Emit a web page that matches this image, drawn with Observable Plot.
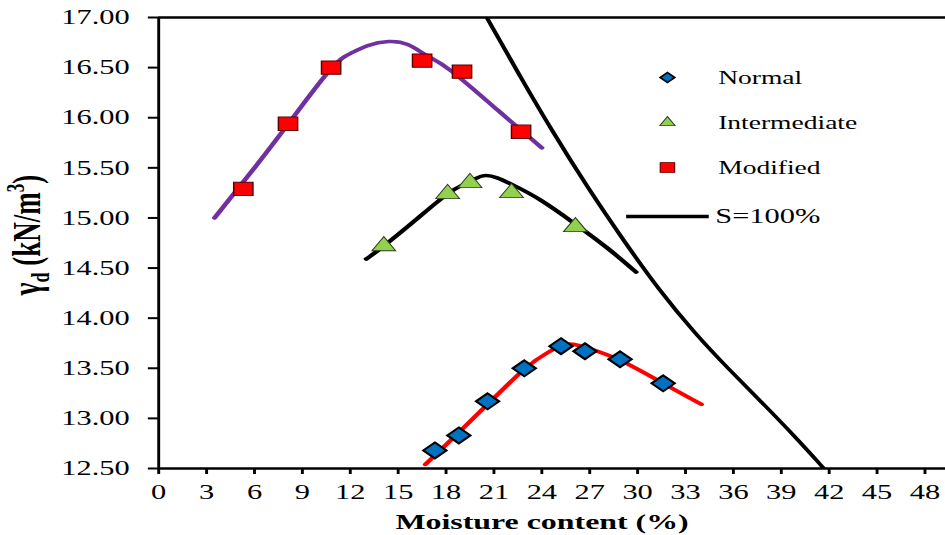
<!DOCTYPE html>
<html>
<head>
<meta charset="utf-8">
<script src="https://cdn.jsdelivr.net/npm/d3@7"></script>
<script src="https://cdn.jsdelivr.net/npm/@observablehq/plot@0.6"></script>
<style>
  html, body { margin: 0; padding: 0; background: #fff; overflow: hidden; }
  #chart { width: 945px; height: 535px; }
</style>
</head>
<body>
<div id="chart"></div>
<script>
// ---- Data ----
const xTicks = [0, 3, 6, 9, 12, 15, 18, 21, 24, 27, 30, 33, 36, 39, 42, 45, 48];
const yTicks = [12.5, 13, 13.5, 14, 14.5, 15, 15.5, 16, 16.5, 17];

// Measured points
const normalW = [17.3, 18.8, 20.6, 22.9, 25.2, 26.7, 28.9, 31.6];
const normalG = [12.68, 12.83, 13.17, 13.50, 13.72, 13.67, 13.59, 13.35];
const interW  = [14.1, 18.1, 19.5, 22.1, 26.1];
const interG  = [14.72, 15.24, 15.35, 15.25, 14.91];
const modW    = [5.3, 8.1, 10.8, 16.5, 19.0, 22.7];
const modG    = [15.29, 15.94, 16.50, 16.57, 16.46, 15.86];

// Fitted curves
const normalFitW = [16.7, 18.8, 20.6, 22.9, 24.4, 25.6, 26.9, 28.9, 31.6, 34.0];
const normalFitG = [12.54, 12.86, 13.14, 13.49, 13.66, 13.74, 13.70, 13.58, 13.35, 13.14];
const interFitW  = [13.0, 14.1, 16.1, 18.1, 19.3, 20.3, 21.2, 22.3, 23.9, 26.0, 28.1, 29.9];
const interFitG  = [14.59, 14.72, 14.98, 15.24, 15.35, 15.42, 15.40, 15.32, 15.18, 14.95, 14.70, 14.46];
const modFitW    = [3.5, 6.0, 8.5, 10.8, 12.0, 13.1, 14.4, 15.6, 16.8, 18.3, 21.2, 24.0];
const modFitG    = [15.00, 15.50, 16.02, 16.49, 16.64, 16.72, 16.76, 16.73, 16.62, 16.47, 16.08, 15.70];
// Zero air voids line, S = 100%
const zavW = [20.55, 22.68, 24.75, 26.88, 29.14, 31.39, 33.58, 35.71, 37.78, 39.79, 41.67];
const zavG = [17.0, 16.40, 15.84, 15.30, 14.77, 14.27, 13.85, 13.49, 13.16, 12.83, 12.5];

const legendLabels = ["Normal", "Intermediate", "Modified", "S=100%"];
const xTitle = "Moisture content (%)";

// ---- build tables ----
const zip = (W, G) => W.map((w, i) => ({w, g: G[i]}));
const normal = zip(normalW, normalG), inter = zip(interW, interG), modif = zip(modW, modG);
const normalFit = zip(normalFitW, normalFitG), interFit = zip(interFitW, interFitG), modFit = zip(modFitW, modFitG);
const zav = zip(zavW, zavG);

// ---- layout (unscaled SVG; the whole SVG is stretched horizontally like the reference) ----
const W = 652, H = 535, ML = 109, MT = 17, MB = 67;
const SX = 945 / W;
const legX = 460, legTX = 495, rowY = [77, 122, 167, 216];

const hLine = {draw(ctx) { ctx.moveTo(-28.5, 0); ctx.lineTo(28.5, 0); }};
const legendSymbols = [
  {symbol: "diamond2", r: 4.5, fill: "#0070c0", stroke: "#000", strokeWidth: 1.5},
  {symbol: "triangle", r: 3.9, fill: "#92d050", stroke: "#2e3d1a", strokeWidth: 0.8},
  {symbol: "square", r: 5.6, fill: "#ff0000", stroke: "#5a0000", strokeWidth: 0.8},
  {symbol: hLine, r: 5, fill: "none", stroke: "#000", strokeWidth: 3.5}
];

const legendMarks = legendLabels.flatMap((label, i) => [
  Plot.dot([label], {frameAnchor: "top-left", dx: legX - ML, dy: rowY[i] - MT, ...legendSymbols[i]}),
  Plot.text([label], {frameAnchor: "top-left", dx: legTX - ML - (i === 3 ? 2 : 0), dy: rowY[i] - MT,
    text: d => d, textAnchor: "start", lineAnchor: "middle", fontSize: i === 3 ? 21 : 19, fill: "#000"})
]);

const svg = Plot.plot({
  width: W, height: H,
  marginLeft: ML, marginRight: 0, marginTop: MT, marginBottom: MB,
  x: {domain: [0, 49.3]},
  y: {domain: [12.5, 17]},
  style: {fontFamily: "'Liberation Serif','Times New Roman',serif", fontSize: "21px", color: "#000", background: "#fff", overflow: "visible"},
  marks: [
    Plot.axisX({ticks: xTicks, tickSize: 6, tickPadding: 10, strokeWidth: 2, label: null, tickFormat: d => String(d)}),
    Plot.axisY({ticks: yTicks, tickSize: 7, tickPadding: 13, strokeWidth: 2, label: null, tickFormat: d => d.toFixed(2)}),
    Plot.ruleY([17], {stroke: "#000", strokeWidth: 2.5}),
    Plot.ruleY([12.5], {stroke: "#000", strokeWidth: 2.5}),
    Plot.ruleX([0], {stroke: "#000", strokeWidth: 2}),
    Plot.line(zav, {x: "w", y: "g", stroke: "#000", strokeWidth: 3, curve: "basis", clip: true}),
    Plot.line(modFit, {x: "w", y: "g", stroke: "#7030a0", strokeWidth: 3.5, curve: "natural", strokeLinecap: "round"}),
    Plot.line(interFit, {x: "w", y: "g", stroke: "#000", strokeWidth: 3.5, curve: "natural", strokeLinecap: "round"}),
    Plot.line(normalFit, {x: "w", y: "g", stroke: "#ff0000", strokeWidth: 3.5, curve: "natural", strokeLinecap: "round"}),
    Plot.dot(modif, {x: "w", y: "g", symbol: "square", r: 7.5, fill: "#ff0000", stroke: "#5a0000", strokeWidth: 1}),
    Plot.dot(inter, {x: "w", y: "g", symbol: "triangle", r: 6.1, fill: "#92d050", stroke: "#2e3d1a", strokeWidth: 0.8}),
    Plot.dot(normal, {x: "w", y: "g", symbol: "diamond2", r: 7.2, fill: "#0070c0", stroke: "#000", strokeWidth: 1.8}),
    ...legendMarks,
    Plot.text([xTitle], {frameAnchor: "bottom", dx: -7, dy: 53, text: d => d, fontWeight: "bold", fontSize: 22, lineAnchor: "middle", fill: "#000"})
  ]
});

// y-axis title with subscript / superscript
const yt = d3.select(svg).append("text")
  .attr("transform", "translate(27.5,235) rotate(-90)")
  .attr("text-anchor", "middle")
  .attr("font-weight", "bold")
  .attr("font-size", 27)
  .attr("fill", "#000");
yt.append("tspan").text("γ");
yt.append("tspan").attr("font-size", 18).attr("dy", 6).text("d");
yt.append("tspan").attr("dy", -6).text(" (kN/m");
yt.append("tspan").attr("font-size", 17).attr("dy", -11).text("3");
yt.append("tspan").attr("dy", 11).text(")");

svg.style.transform = `scaleX(${SX})`;
svg.style.transformOrigin = "0 0";
svg.style.display = "block";
svg.style.maxWidth = "none";
document.getElementById("chart").appendChild(svg);
</script>
</body>
</html>
